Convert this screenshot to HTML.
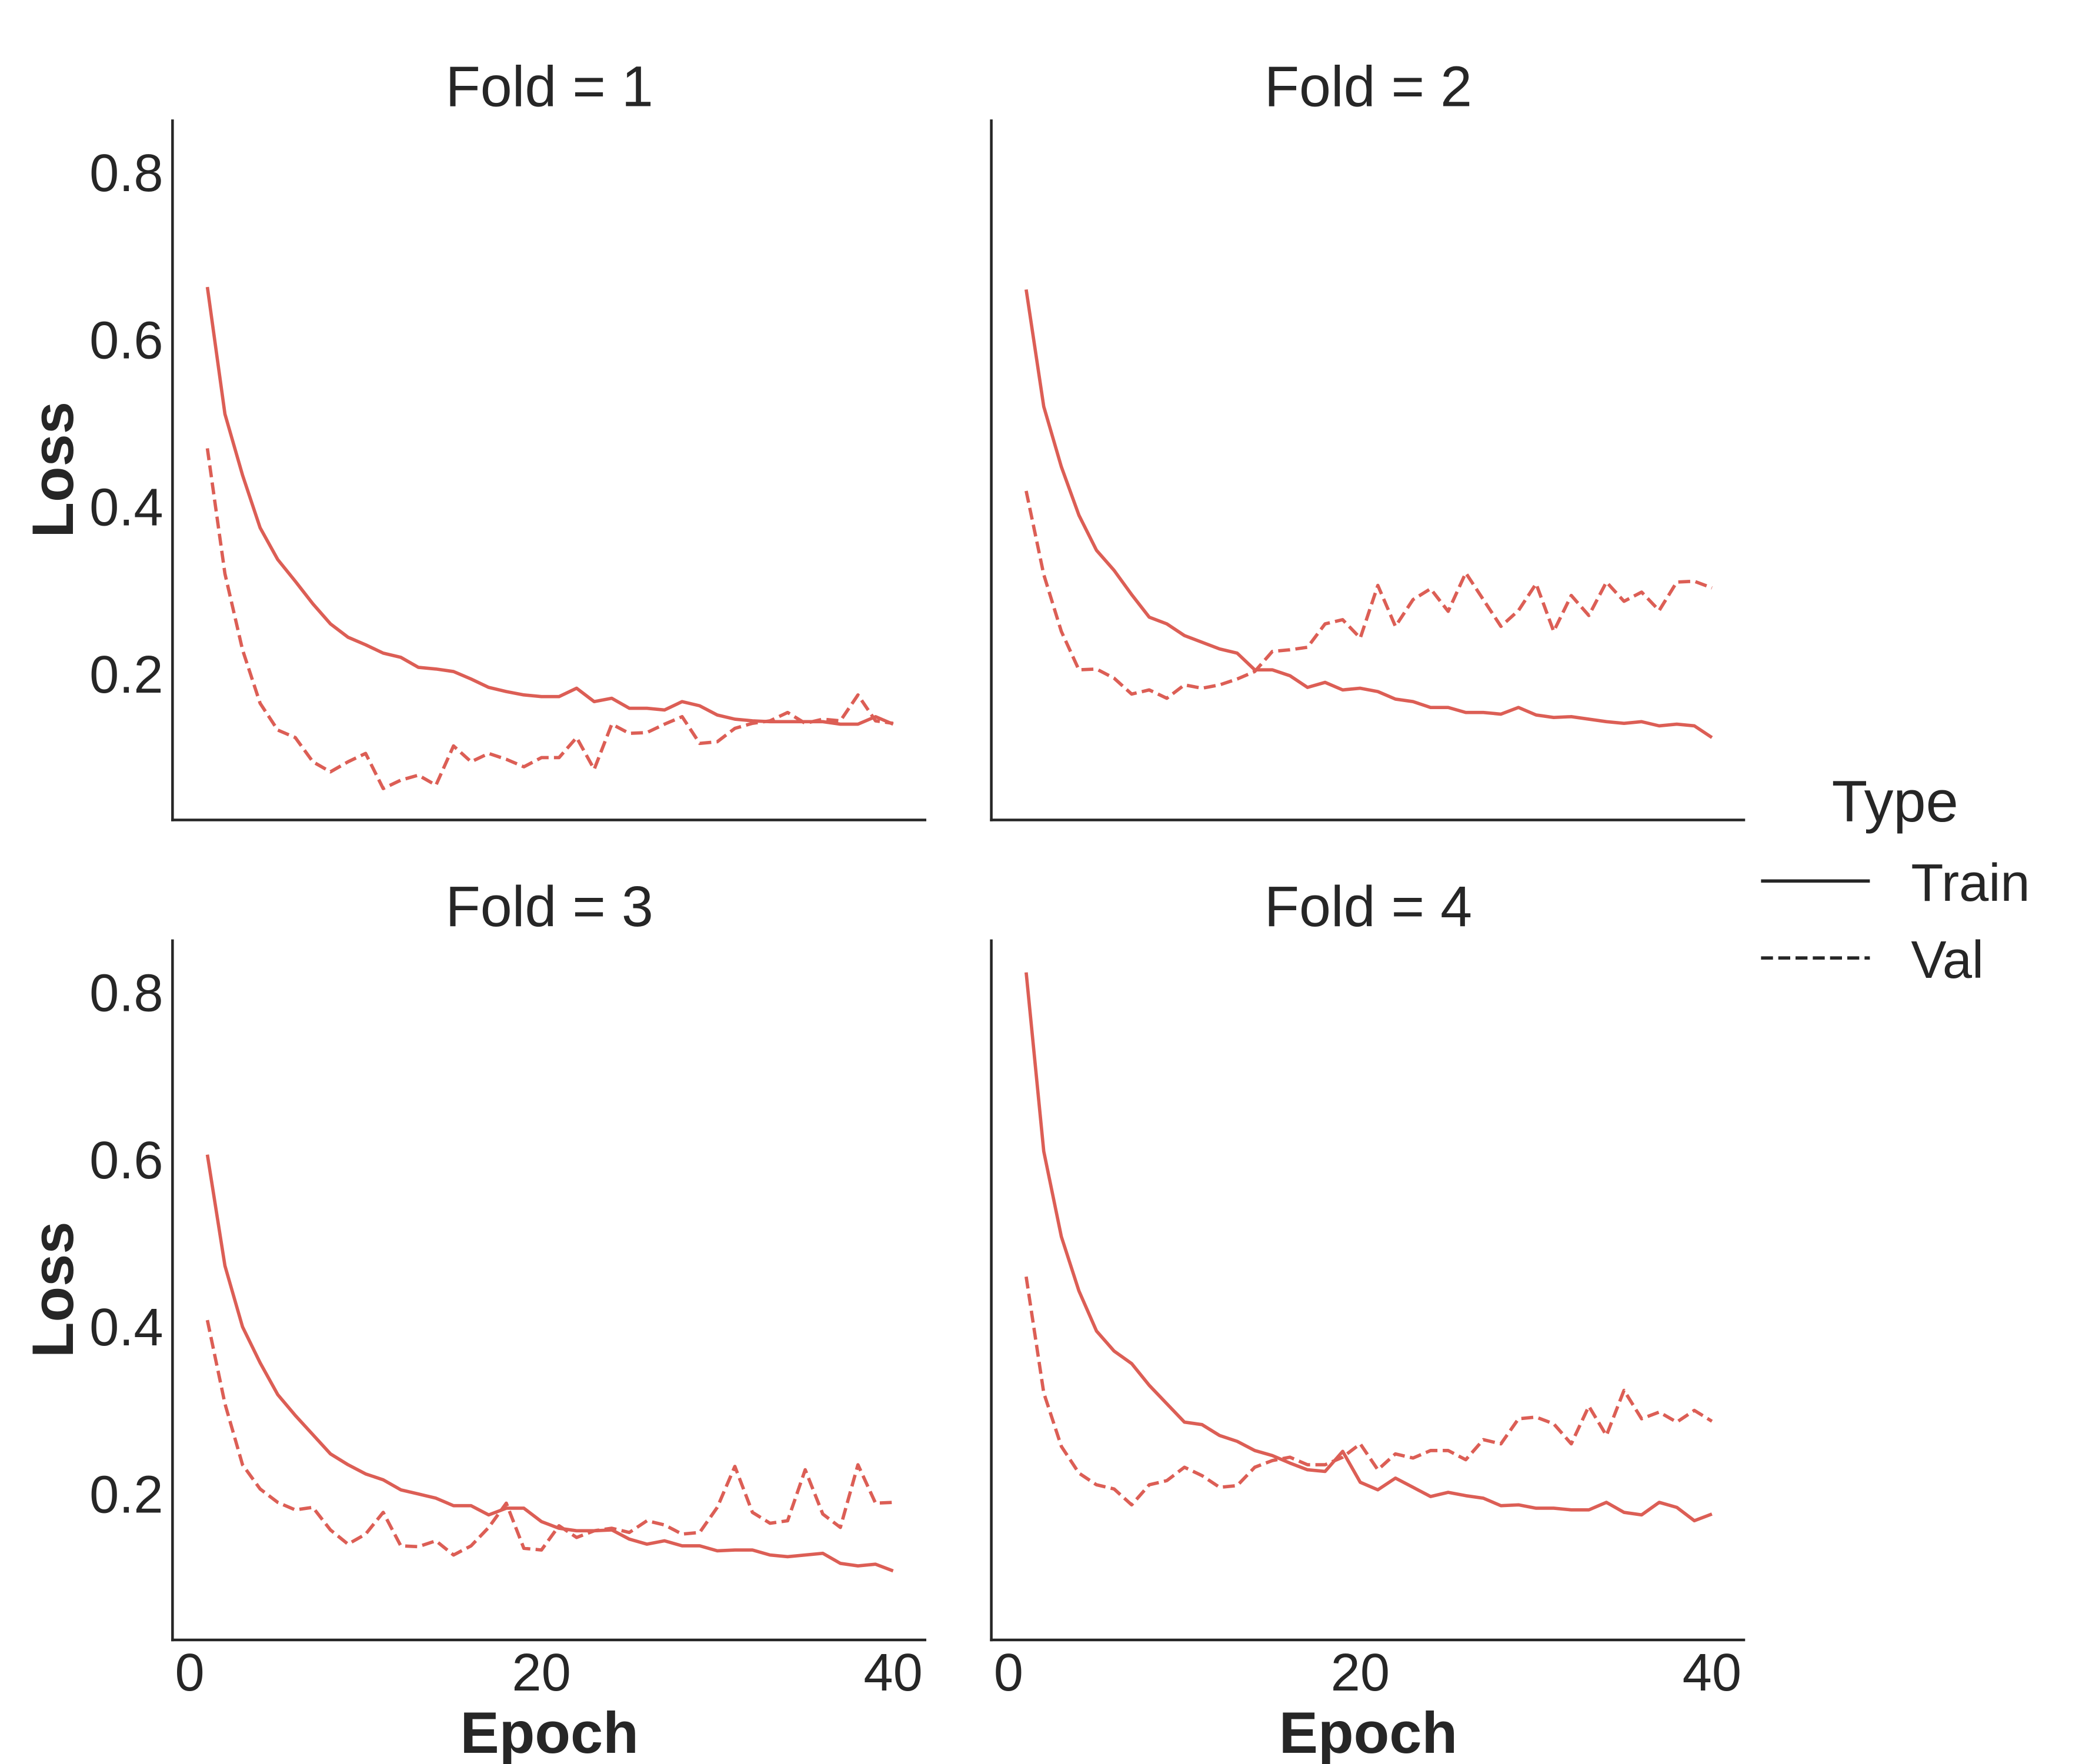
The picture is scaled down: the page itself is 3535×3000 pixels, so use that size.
<!DOCTYPE html>
<html><head><meta charset="utf-8"><style>
html,body{margin:0;padding:0;background:#fff}
svg{display:block}
text{font-family:"Liberation Sans",sans-serif;fill:#262626}
</style></head><body>
<svg id="chart" width="3535" height="3000" viewBox="0 0 1566.6 1329.5" preserveAspectRatio="none" xmlns="http://www.w3.org/2000/svg"></svg>
<script>
const epochs = Array.from({length:40},(_,i)=>i+1);
const fold1Train=[0.663,0.511,0.438,0.375,0.337,0.311,0.284,0.26,0.244,0.235,0.225,0.22,0.208,0.206,0.203,0.194,0.184,0.179,0.175,0.173,0.173,0.183,0.167,0.171,0.159,0.159,0.157,0.167,0.162,0.151,0.146,0.144,0.143,0.143,0.143,0.143,0.14,0.14,0.149,0.14];
const fold1Val=[0.47,0.32,0.229,0.165,0.133,0.124,0.095,0.083,0.095,0.105,0.063,0.073,0.079,0.067,0.114,0.095,0.105,0.098,0.089,0.1,0.1,0.124,0.086,0.14,0.129,0.13,0.14,0.149,0.117,0.119,0.135,0.141,0.144,0.154,0.141,0.146,0.144,0.175,0.144,0.141];
const fold2Train=[0.66,0.52,0.448,0.39,0.348,0.324,0.295,0.268,0.26,0.246,0.238,0.23,0.225,0.205,0.205,0.198,0.184,0.19,0.181,0.183,0.179,0.17,0.167,0.16,0.16,0.154,0.154,0.152,0.16,0.151,0.148,0.149,0.146,0.143,0.141,0.143,0.138,0.14,0.138,0.124];
const fold2Val=[0.419,0.319,0.251,0.205,0.206,0.195,0.176,0.181,0.171,0.187,0.183,0.187,0.194,0.203,0.227,0.229,0.232,0.26,0.265,0.243,0.306,0.257,0.289,0.302,0.275,0.321,0.289,0.257,0.276,0.308,0.251,0.294,0.27,0.31,0.287,0.298,0.276,0.31,0.311,0.303];
const fold3Train=[0.606,0.473,0.4,0.357,0.319,0.294,0.271,0.248,0.235,0.224,0.217,0.205,0.2,0.195,0.186,0.186,0.175,0.183,0.183,0.167,0.159,0.156,0.156,0.157,0.146,0.14,0.144,0.138,0.138,0.132,0.133,0.133,0.127,0.125,0.127,0.129,0.117,0.114,0.116,0.108];
const fold3Val=[0.408,0.308,0.235,0.206,0.19,0.181,0.184,0.157,0.14,0.152,0.178,0.138,0.137,0.144,0.127,0.138,0.16,0.189,0.135,0.133,0.162,0.148,0.156,0.159,0.154,0.168,0.163,0.152,0.154,0.184,0.233,0.178,0.165,0.168,0.229,0.176,0.16,0.235,0.189,0.19];
const fold4Train=[0.824,0.61,0.508,0.443,0.395,0.371,0.356,0.33,0.308,0.286,0.283,0.27,0.263,0.252,0.246,0.237,0.229,0.227,0.251,0.214,0.205,0.219,0.208,0.197,0.202,0.198,0.195,0.186,0.187,0.183,0.183,0.181,0.181,0.19,0.178,0.175,0.19,0.184,0.168,0.176];
const fold4Val=[0.46,0.321,0.257,0.225,0.211,0.206,0.187,0.211,0.216,0.232,0.222,0.208,0.21,0.232,0.24,0.244,0.235,0.235,0.244,0.26,0.229,0.248,0.243,0.252,0.252,0.241,0.265,0.26,0.29,0.292,0.284,0.26,0.305,0.27,0.324,0.29,0.298,0.286,0.3,0.287];
const yTicks=[0.2,0.4,0.6,0.8];
const xTicks=[0,20,40];
const foldNames=["Fold = 1","Fold = 2","Fold = 3","Fold = 4"];

const NS="http://www.w3.org/2000/svg";
const svg=document.getElementById('chart');
const COLOR="#dc5e55";
function mk(tag,attrs,parent){const e=document.createElementNS(NS,tag);for(const k in attrs)e.setAttribute(k,attrs[k]);(parent||svg).appendChild(e);return e;}

const panels=[
 {x0:130,top:90,bottom:618,train:fold1Train,val:fold1Val,row:0,col:0},
 {x0:747,top:90,bottom:618,train:fold2Train,val:fold2Val,row:0,col:1},
 {x0:130,top:708,bottom:1236,train:fold3Train,val:fold3Val,row:1,col:0},
 {x0:747,top:708,bottom:1236,train:fold4Train,val:fold4Val,row:1,col:1}
];
panels.forEach((p,i)=>{
  const g=mk('g',{});
  
  
  const zeroY=p.bottom+16;
  const xs=v=>p.x0+13+v*13.25;
  const ys=v=>zeroY-v*630;
  const mkLine=(arr,dashed,name)=>{
    const d=arr.map((v,j)=>(j?'L':'M')+xs(epochs[j]).toFixed(2)+' '+ys(v).toFixed(2)).join(' ');
    const pth=mk('path',{d:d,fill:'none',stroke:COLOR,'stroke-width':2.5,'stroke-linejoin':'round'},g);
    if(dashed)pth.setAttribute('stroke-dasharray','9 4');
    
    
  };
  mkLine(p.train,false,'train-line-fold-'+(i+1));
  mkLine(p.val,true,'val-line-fold-'+(i+1));
  const ya=mk('line',{x1:p.x0,y1:p.top,x2:p.x0,y2:p.bottom+1,stroke:'#262626','stroke-width':2},g);
  
  
  const xa=mk('line',{x1:p.x0-1,y1:p.bottom,x2:p.x0+568,y2:p.bottom,stroke:'#262626','stroke-width':2},g);
  
  
  const t=mk('text',{x:p.x0+284,y:p.top-10,'text-anchor':'middle','font-size':43},g);
  t.textContent=foldNames[i];
  
  
  if(p.col===0){
    yTicks.forEach(v=>{
      const tt=mk('text',{x:p.x0-7,y:ys(v)+14,'text-anchor':'end','font-size':40},g);
      tt.textContent=v.toFixed(1);
      
      
    });
    const cy=(p.top+p.bottom)/2;
    const yl=mk('text',{x:55,y:cy,'text-anchor':'middle','font-size':44,'font-weight':'bold',transform:'rotate(-90 55 '+cy+')'},g);
    yl.textContent='Loss';
    
    
  }
  if(p.row===1){
    xTicks.forEach(v=>{
      const tt=mk('text',{x:xs(v),y:p.bottom+38,'text-anchor':'middle','font-size':40},g);
      tt.textContent=v;
      
      
    });
    const xl=mk('text',{x:p.x0+284,y:1321,'text-anchor':'middle','font-size':44,'font-weight':'bold'},g);
    xl.textContent='Epoch';
    
    
  }
});
const lg=mk('g',{});


const lt=mk('text',{x:1428,y:619,'text-anchor':'middle','font-size':44},lg);
lt.textContent='Type';


const l1=mk('line',{x1:1327,y1:664,x2:1409,y2:664,stroke:'#262626','stroke-width':2.5},lg);


const t1=mk('text',{x:1440,y:679,'font-size':40},lg);
t1.textContent='Train';


const l2=mk('line',{x1:1327,y1:722,x2:1409,y2:722,stroke:'#262626','stroke-width':2.5,'stroke-dasharray':'9 4'},lg);


const t2=mk('text',{x:1440,y:737,'font-size':40},lg);
t2.textContent='Val';


</script>
</body></html>
